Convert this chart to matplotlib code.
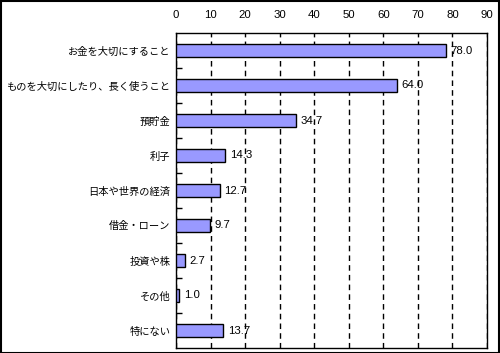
import matplotlib.pyplot as plt
from matplotlib.patches import Rectangle

plt.rcParams['font.family'] = ['Noto Sans CJK JP', 'DejaVu Sans']

labels = ["お金を大切にすること", "ものを大切にしたり、長く使うこと", "預貯金", "利子",
          "日本や世界の経済", "借金・ローン", "投資や株", "その他", "特にない"]
values = [78.0, 64.0, 34.7, 14.3, 12.7, 9.7, 2.7, 1.0, 13.7]
xticks = [0, 10, 20, 30, 40, 50, 60, 70, 80, 90]

num_font = ['Liberation Sans', 'DejaVu Sans']

fig = plt.figure(figsize=(5, 3.53), dpi=100)
ax = fig.add_axes([176 / 500, 1 - 348 / 353, (487 - 176) / 500, (348 - 33) / 353])

pos = list(range(len(labels)))
ax.barh(pos, values, height=0.37, color="#9999FF", edgecolor="black", linewidth=1, zorder=3)
for p, v in zip(pos, values):
    ax.text(v + 1.3, p, f"{v:.1f}", va="center", ha="left", fontsize=8.2, family=num_font,
            zorder=4)

ax.set_xlim(0, 90)
ax.set_ylim(len(labels) - 0.5, -0.5)
ax.set_xticks(xticks)
ax.set_xticklabels([str(t) for t in xticks], family=num_font, fontsize=8.2)
ax.xaxis.tick_top()
ax.tick_params(axis="x", length=0, pad=9)
ax.set_yticks(pos)
ax.set_yticklabels(labels, fontsize=7.4)
ax.tick_params(axis="y", length=0, pad=4)
ax.set_yticks([p + 0.5 for p in pos[:-1]], minor=True)
ax.tick_params(axis="y", which="minor", direction="in", length=4, width=1)
ax.grid(axis="x", color="black", linestyle=(0, (4, 3)), linewidth=1, zorder=1)
for s in ax.spines.values():
    s.set_color("black")
    s.set_linewidth(1)

fig.patches.append(Rectangle((0.001, 0.001), 0.997, 0.997, transform=fig.transFigure,
                             fill=False, edgecolor="black", linewidth=1.5))
fig.savefig("out.png", dpi=100)
